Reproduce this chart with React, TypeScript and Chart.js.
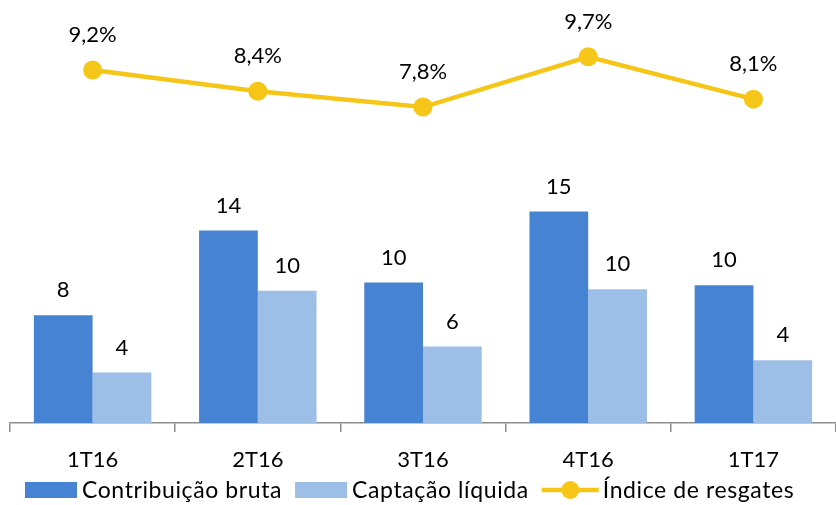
import React, { useEffect, useRef } from 'react';
import { Chart, registerables } from 'chart.js';

Chart.register(...registerables);

const categories = ['1T16', '2T16', '3T16', '4T16', '1T17'];
const contribuicaoBruta = [7.9, 14.1, 10.3, 15.5, 10.1];
const contribuicaoLabels = ['8', '14', '10', '15', '10'];
const captacaoLiquida = [3.7, 9.7, 5.6, 9.8, 4.6];
const captacaoLabels = ['4', '10', '6', '10', '4'];
const indiceResgates = [9.2, 8.4, 7.8, 9.7, 8.1];
const indiceLabels = ['9,2%', '8,4%', '7,8%', '9,7%', '8,1%'];

const FONT = 'Lato, "Open Sans", sans-serif';
const BLUE = '#4683D2';
const LIGHT = '#9DBEE6';
const YELLOW = '#F5C518';

const valueLabelsPlugin = {
  id: 'valueLabels',
  afterDatasetsDraw(chart: any) {
    const ctx = chart.ctx;
    ctx.save();
    ctx.font = `22px ${FONT}`;
    ctx.fillStyle = '#000';
    ctx.textAlign = 'center';
    ctx.textBaseline = 'middle';
    chart.data.datasets.forEach((ds: any, i: number) => {
      const meta = chart.getDatasetMeta(i);
      const labels: string[] = ds.valueLabels || [];
      const off = ds.type === 'line' ? 35 : 25;
      meta.data.forEach((el: any, j: number) => {
        ctx.fillText(labels[j], el.x, el.y - off);
      });
    });
    ctx.restore();
  },
};

const legendPlugin = {
  id: 'customLegend',
  afterDraw(chart: any) {
    const ctx = chart.ctx;
    ctx.save();
    ctx.font = `23px ${FONT}`;
    try {
      (ctx as any).letterSpacing = '0.6px';
    } catch (e) {}
    ctx.textBaseline = 'middle';
    ctx.textAlign = 'left';
    const cy = 490;
    let x = 25;
    chart.data.datasets.forEach((ds: any) => {
      if (ds.type === 'line') {
        ctx.strokeStyle = ds.borderColor;
        ctx.lineWidth = 4.5;
        ctx.beginPath();
        ctx.moveTo(x, cy);
        ctx.lineTo(x + 57, cy);
        ctx.stroke();
        ctx.fillStyle = ds.borderColor;
        ctx.beginPath();
        ctx.arc(x + 28.5, cy, 9, 0, Math.PI * 2);
        ctx.fill();
        x += 61;
      } else {
        ctx.fillStyle = ds.backgroundColor;
        ctx.fillRect(x, cy - 8, 52, 16);
        x += 57;
      }
      ctx.fillStyle = '#000';
      ctx.fillText(ds.label, x, cy + 1);
      x += ctx.measureText(ds.label).width + 13;
    });
    ctx.restore();
  },
};

export default function App() {
  const ref = useRef<HTMLCanvasElement>(null);
  useEffect(() => {
    document.body.style.margin = '0';
    const chart = new Chart(ref.current!, {
      type: 'bar',
      data: {
        labels: categories,
        datasets: [
          {
            type: 'bar',
            label: 'Contribuição bruta',
            data: contribuicaoBruta,
            valueLabels: contribuicaoLabels,
            yAxisID: 'yBar',
            backgroundColor: BLUE,
            categoryPercentage: 0.711,
            barPercentage: 1,
            order: 1,
          } as any,
          {
            type: 'bar',
            label: 'Captação líquida',
            data: captacaoLiquida,
            valueLabels: captacaoLabels,
            yAxisID: 'yBar',
            backgroundColor: LIGHT,
            categoryPercentage: 0.711,
            barPercentage: 1,
            order: 1,
          } as any,
          {
            type: 'line',
            label: 'Índice de resgates',
            data: indiceResgates,
            valueLabels: indiceLabels,
            yAxisID: 'yLine',
            borderColor: YELLOW,
            backgroundColor: YELLOW,
            borderWidth: 4.5,
            pointRadius: 9.5,
            pointBackgroundColor: YELLOW,
            pointBorderWidth: 0,
            tension: 0,
            clip: false,
            order: 0,
          } as any,
        ],
      },
      options: {
        responsive: false,
        animation: false,
        layout: { autoPadding: false, padding: { left: 10, right: 0, top: 0, bottom: 0 } },
        plugins: {
          legend: { display: false },
          tooltip: { enabled: false },
        },
        scales: {
          x: {
            offset: true,
            grid: {
              offset: true,
              drawOnChartArea: false,
              drawTicks: true,
              tickLength: 9,
              color: '#8C8C8C',
              lineWidth: 1.5,
            },
            border: { display: true, color: '#8C8C8C', width: 1.5 },
            ticks: { font: { family: FONT, size: 22 }, color: '#000', padding: 15 },
            afterFit(scale: any) {
              scale.height = 82;
            },
          },
          yBar: { display: false, min: 0, max: 31 },
          yLine: { display: false, min: -4.15, max: 11.85 },
        },
      } as any,
      plugins: [valueLabelsPlugin, legendPlugin],
    });
    return () => chart.destroy();
  }, []);
  return (
    <div style={{ width: 836, height: 505 }}>
      <canvas ref={ref} width={836} height={505} style={{ display: 'block' }} />
    </div>
  );
}
